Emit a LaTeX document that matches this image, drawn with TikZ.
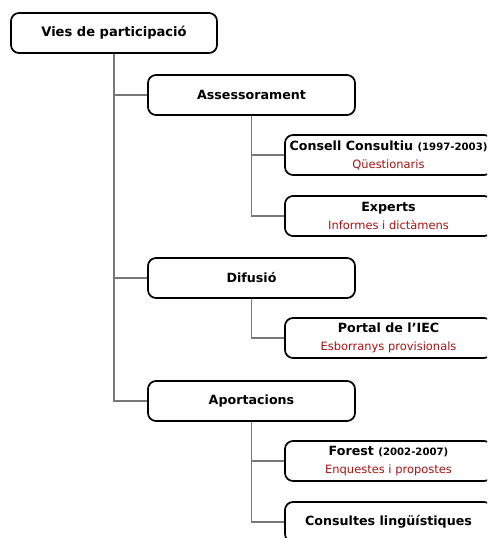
\documentclass[tikz,border=0pt]{standalone}
\usepackage{fontspec}
\setmainfont{DejaVu Sans}
\usetikzlibrary{calc}
\definecolor{subred}{RGB}{165,20,20}
\definecolor{linkgray}{RGB}{120,120,120}
\tikzset{
  box/.style={draw=black, line width=1.3pt, rounded corners=6pt, fill=white,
    minimum height=30pt, inner sep=0pt, align=center, font=\bfseries\fontsize{9.5}{11}\selectfont},
  rootbox/.style={box, minimum width=154.5pt, font=\bfseries\fontsize{9.8}{11}\selectfont},
  midbox/.style={box, minimum width=155.25pt},
  leafbox/.style={box, minimum width=155.25pt},
  conn/.style={draw=linkgray, line width=0.8pt}
}
\newcommand{\subline}[1]{{\mdseries\fontsize{8.6}{10}\selectfont\color{subred}#1}}
\newcommand{\yrs}[1]{{\fontsize{7.6}{8}\selectfont #1}}
\begin{document}
\begin{tikzpicture}[x=0.75pt, y=-0.75pt]
  \useasboundingbox (0,0) rectangle (487,538);
  \clip (0,0) rectangle (487,538);
  % top level
  \node[rootbox] (root) at (114,33) {Vies de participació};
  % second level
  \node[midbox] (ass) at (251.5,95) {Assessorament};
  \node[midbox] (dif) at (251.5,278) {Difusió};
  \node[midbox] (apo) at (251.5,401) {Aportacions};
  % leaves
  \node[leafbox] (cc) at (388.5,155) {Consell Consultiu \yrs{(1997-2003)}\\[2.5pt]\subline{Qüestionaris}};
  \node[leafbox] (exp) at (388.5,216) {Experts\\[2.5pt]\subline{Informes i dictàmens}};
  \node[leafbox] (iec) at (388.5,338) {Portal de l’IEC\\[2.5pt]\subline{Esborranys provisionals}};
  \node[leafbox] (for) at (388.5,461) {Forest \yrs{(2002-2007)}\\[2.5pt]\subline{Enquestes i propostes}};
  \node[leafbox] (cons) at (388.5,522) {Consultes lingüístiques};
  % trunk
  \draw[conn] (root.south) |- (ass.west);
  \draw[conn] (root.south) |- (dif.west);
  \draw[conn] (root.south) |- (apo.west);
  % branches from the middle of each second-level box
  \draw[conn] (ass.south) |- (cc.west);
  \draw[conn] (ass.south) |- (exp.west);
  \draw[conn] (dif.south) |- (iec.west);
  \draw[conn] (apo.south) |- (for.west);
  \draw[conn] (apo.south) |- (cons.west);
\end{tikzpicture}
\end{document}
